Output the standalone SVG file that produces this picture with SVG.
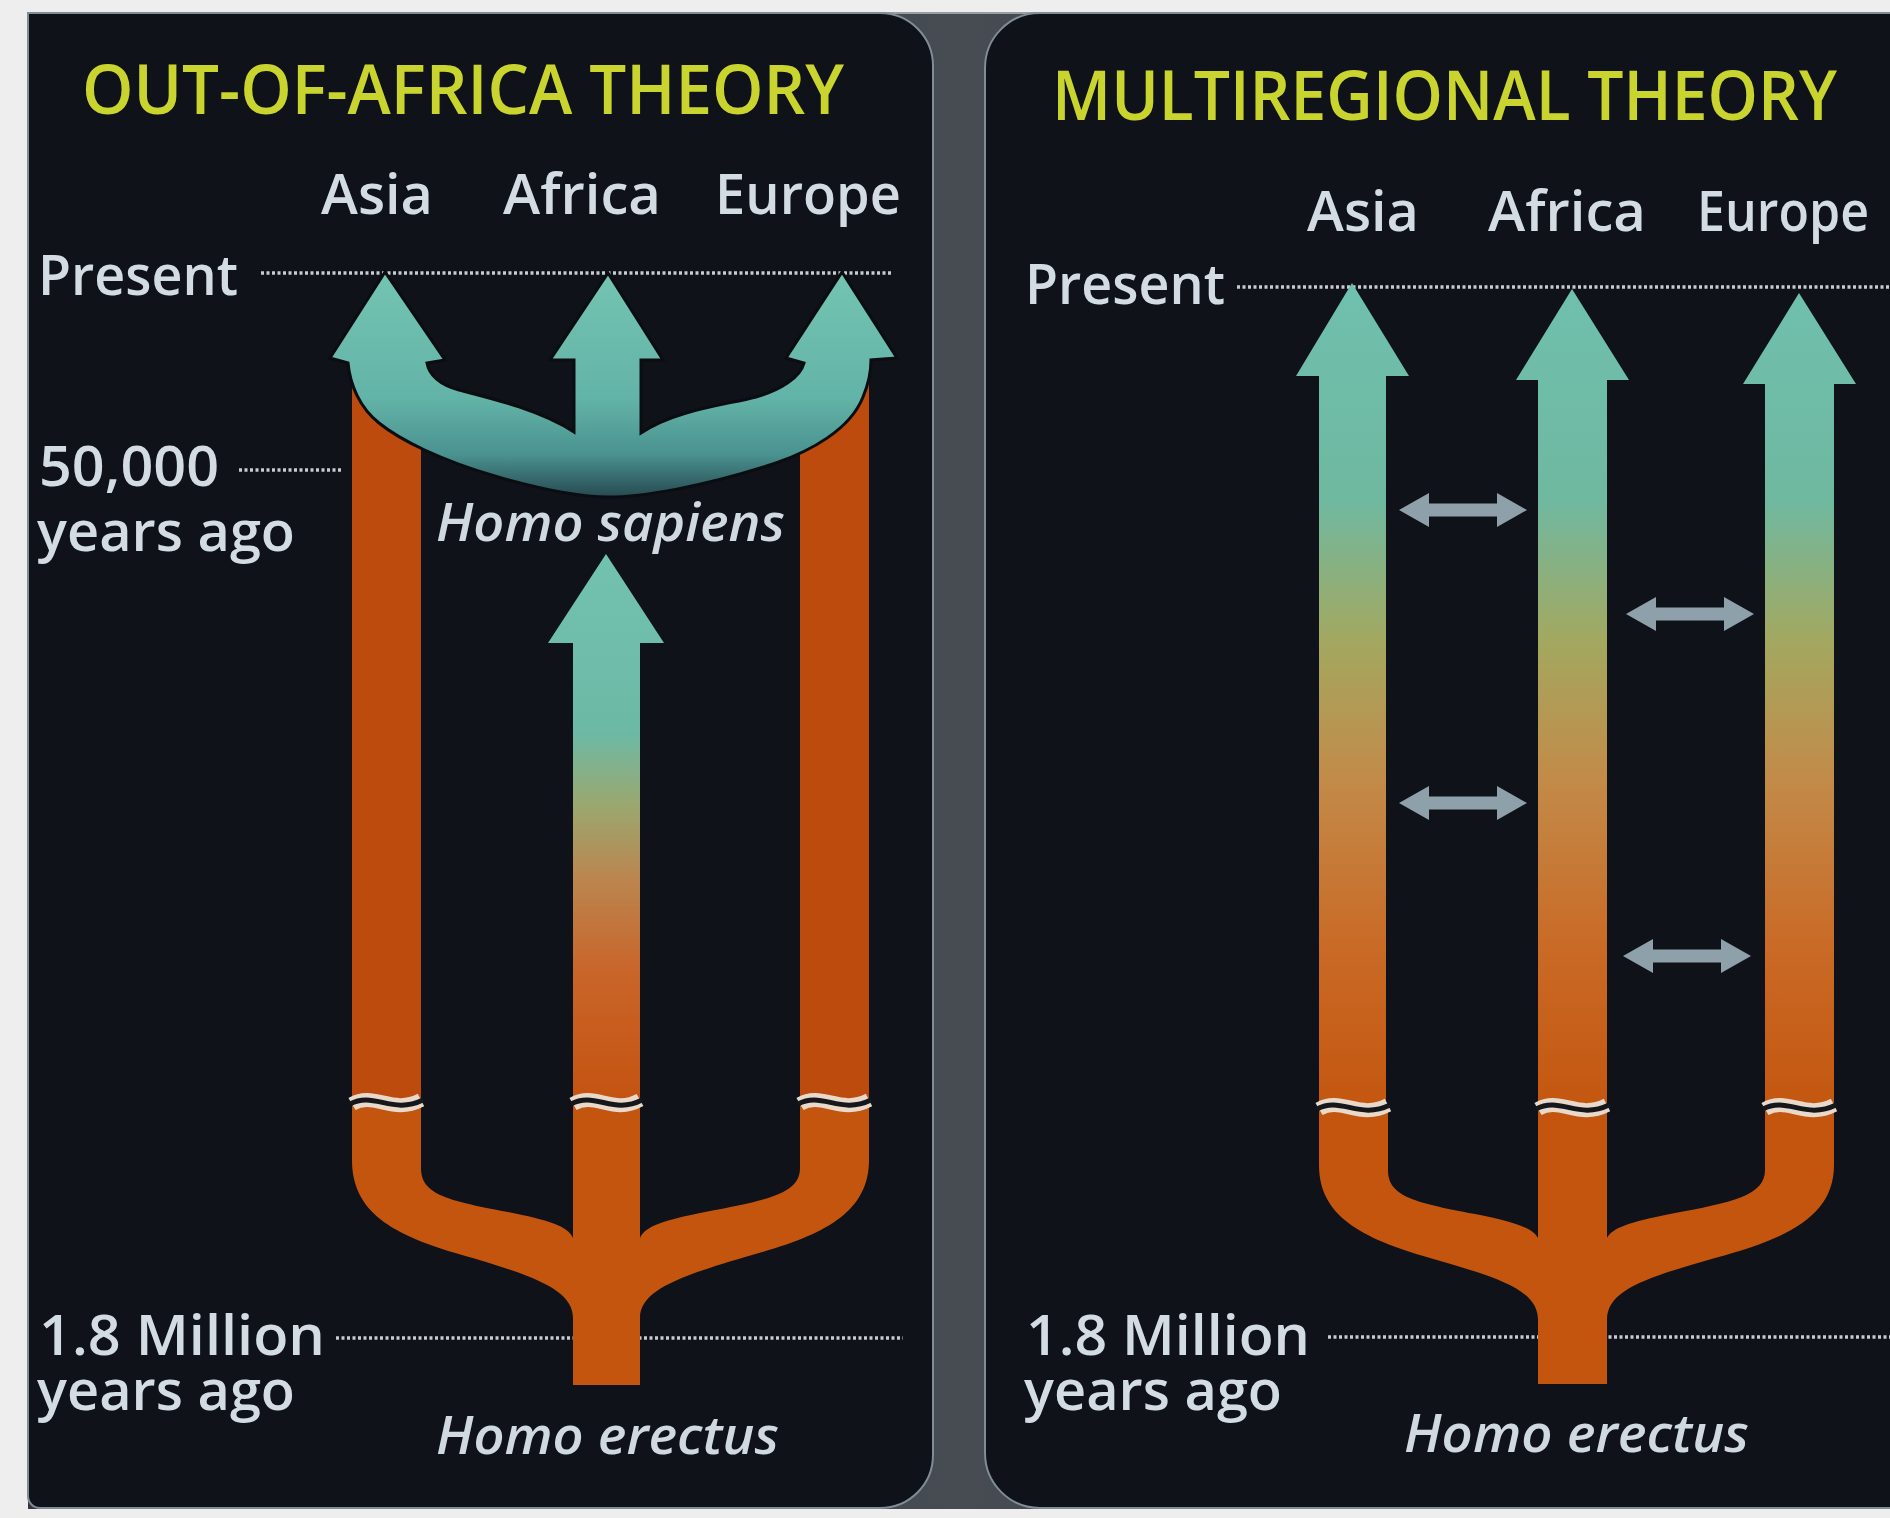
<svg xmlns="http://www.w3.org/2000/svg" xmlns:xlink="http://www.w3.org/1999/xlink" width="1890" height="1518" viewBox="0 0 1890 1518">
  <style>
    .title { font-family: "Open Sans", "Noto Sans", "Liberation Sans", sans-serif; font-weight: 600; font-size: 68px; fill: #c9d52e; }
    .lbl { font-family: "Open Sans", "Noto Sans", "Liberation Sans", sans-serif; font-weight: 600; font-size: 56px; fill: #d3dce2; }
    .sp { font-family: "Open Sans", "Noto Sans", "Liberation Sans", sans-serif; font-weight: 600; font-style: italic; font-size: 52px; fill: #cfd9df; }
    .dots { stroke: #c5ccd2; stroke-width: 3.5; stroke-dasharray: 3 2.5; fill: none; }
    .panel { fill: #0f1219; stroke: #7f8d96; stroke-width: 2; }
    .trunk { fill: #bd4b0e; }
    .base { fill: #c4550f; }
    .wl { fill: none; stroke: #e8d9cb; stroke-width: 14; }
    .wd { fill: none; stroke: #15171b; stroke-width: 5; }
    .dbl { fill: #8ea1aa; }
  </style>
  <defs>
    <linearGradient id="bowlGrad" gradientUnits="userSpaceOnUse" x1="0" y1="272" x2="0" y2="500">
      <stop offset="0" stop-color="#74c4b2"/>
      <stop offset="0.55" stop-color="#63b4a8"/>
      <stop offset="0.8" stop-color="#4a9290"/>
      <stop offset="1" stop-color="#24454c"/>
    </linearGradient>
    <linearGradient id="sapGrad" gradientUnits="userSpaceOnUse" x1="0" y1="554" x2="0" y2="1110">
      <stop offset="0" stop-color="#72c2b0"/>
      <stop offset="0.32" stop-color="#6cb9a5"/>
      <stop offset="0.45" stop-color="#9aa870"/>
      <stop offset="0.58" stop-color="#bb8650"/>
      <stop offset="0.75" stop-color="#c9652a"/>
      <stop offset="1" stop-color="#c4520f"/>
    </linearGradient>
    <linearGradient id="multiGrad" gradientUnits="userSpaceOnUse" x1="0" y1="285" x2="0" y2="1112">
      <stop offset="0" stop-color="#6fc0ae"/>
      <stop offset="0.26" stop-color="#6fb8a0"/>
      <stop offset="0.43" stop-color="#a3a860"/>
      <stop offset="0.6" stop-color="#c38a48"/>
      <stop offset="0.8" stop-color="#c96a26"/>
      <stop offset="1" stop-color="#c4560f"/>
    </linearGradient>
    <linearGradient id="gapGrad" x1="0" y1="0" x2="1" y2="0">
      <stop offset="0" stop-color="#33373e"/>
      <stop offset="0.5" stop-color="#474b52"/>
      <stop offset="1" stop-color="#33373e"/>
    </linearGradient>
    <path id="dblArrow" d="M -64 0 L -34 -17 L -34 -6.5 L 34 -6.5 L 34 -17 L 64 0 L 34 17 L 34 6.5 L -34 6.5 L -34 17 Z"/>
  </defs>

  <!-- frame and background -->
  <rect x="0" y="0" width="1890" height="1518" fill="#eeeeee"/>
  <rect x="28" y="12" width="1862" height="1497" fill="url(#gapGrad)"/>
  <rect x="28" y="12" width="1862" height="2" fill="#9a9ea3"/>

  <!-- LEFT PANEL -->
  <g id="panel-out-of-africa">
    <path class="panel" d="M 28 13 H 880 A 53 53 0 0 1 933 66 V 1455 A 53 53 0 0 1 880 1508 H 40 A 12 12 0 0 1 28 1496 Z"/>

    <g id="oa-timelines">
      <line class="dots" x1="261" y1="273" x2="891" y2="273"/>
      <line class="dots" x1="239" y1="470" x2="342" y2="470"/>
      <line class="dots" x1="336" y1="1338" x2="903" y2="1338"/>
    </g>

    <g id="oa-erectus-lineages">
      <rect class="trunk" x="352" y="378" width="69" height="735"/>
      <rect class="trunk" x="800" y="378" width="69" height="735"/>
      <path class="base" d="M 352 1100 L 352 1160 C 352 1212 392 1235 462 1255 C 535 1276 573 1290 573 1318 L 573 1385 L 640 1385 L 640 1318 C 640 1290 680 1276 752 1255 C 825 1235 869 1212 869 1160 L 869 1100 L 800 1100 L 800 1168 C 800 1193 770 1200 705 1212 C 665 1220 645 1226 640 1238 L 640 1100 L 573 1100 L 573 1238 C 568 1226 548 1220 508 1212 C 443 1200 421 1193 421 1168 L 421 1100 Z"/>
    </g>

    <g id="oa-sapiens-arrow">
      <path fill="url(#sapGrad)" d="M 573 1108 L 573 643 L 548 643 L 606 554 L 664 643 L 640 643 L 640 1108 Z"/>
    </g>

    <g id="oa-sapiens-spread">
      <path fill="url(#bowlGrad)" stroke="#0b0d10" stroke-width="3" d="M 330 358 L 385 272 L 445 360 L 427 363 C 429 375 440 385 459 390 C 490 398 540 410 574 432 L 574 360 L 550 360 L 608 273 L 663 360 L 641 360 L 641 433 C 675 410 725 405 756 397 C 780 390 800 378 804 363 L 786 358 L 842 272 L 897 358 L 871 360 C 871 372 868 385 863 397 C 850 430 810 451 776 463 C 700 488 640 497 608 497 C 580 497 540 489 498 477 C 440 460 400 440 379 423 C 360 408 350 385 348 363 Z"/>
    </g>

    <g id="oa-breaks">
      <path class="wl" d="M 352 1104 C 374 1091 392 1115 421 1100"/>
      <path class="wd" d="M 350 1104 C 374 1091 392 1115 423 1100"/>
      <path class="wl" d="M 573 1104 C 595 1091 613 1115 640 1100"/>
      <path class="wd" d="M 571 1104 C 595 1091 613 1115 642 1100"/>
      <path class="wl" d="M 800 1104 C 822 1091 840 1115 869 1100"/>
      <path class="wd" d="M 798 1104 C 822 1091 840 1115 871 1100"/>
    </g>

    <g id="oa-labels">
      <text class="title" x="82" y="114" textLength="762" lengthAdjust="spacingAndGlyphs">OUT-OF-AFRICA THEORY</text>
      <text class="lbl" x="321" y="214" textLength="112" lengthAdjust="spacingAndGlyphs">Asia</text>
      <text class="lbl" x="503" y="214" textLength="158" lengthAdjust="spacingAndGlyphs">Africa</text>
      <text class="lbl" x="715" y="214" textLength="186" lengthAdjust="spacingAndGlyphs">Europe</text>
      <text class="lbl" x="38" y="295" textLength="200" lengthAdjust="spacingAndGlyphs">Present</text>
      <text class="lbl" x="39" y="486" textLength="180" lengthAdjust="spacingAndGlyphs">50,000</text>
      <text class="lbl" x="37" y="551" textLength="258" lengthAdjust="spacingAndGlyphs">years ago</text>
      <text class="sp" x="436" y="541" textLength="349" lengthAdjust="spacingAndGlyphs">Homo sapiens</text>
      <text class="lbl" x="39" y="1355" textLength="286" lengthAdjust="spacingAndGlyphs">1.8 Million</text>
      <text class="lbl" x="37" y="1410" textLength="258" lengthAdjust="spacingAndGlyphs">years ago</text>
      <text class="sp" x="436" y="1454" textLength="343" lengthAdjust="spacingAndGlyphs">Homo erectus</text>
    </g>
  </g>

  <!-- RIGHT PANEL -->
  <g id="panel-multiregional">
    <path class="panel" d="M 1892 13 H 1040 A 55 55 0 0 0 985 68 V 1453 A 55 55 0 0 0 1040 1508 H 1892 Z"/>

    <g id="mr-timelines">
      <line class="dots" x1="1237" y1="287" x2="1890" y2="287"/>
      <line class="dots" x1="1328" y1="1337" x2="1890" y2="1337"/>
    </g>

    <g id="mr-erectus-base">
      <path class="base" d="M 1319 1105 L 1319 1165 C 1319 1215 1360 1238 1430 1258 C 1500 1278 1538 1290 1538 1320 L 1538 1384 L 1607 1384 L 1607 1320 C 1607 1290 1645 1278 1715 1258 C 1790 1238 1834 1215 1834 1165 L 1834 1105 L 1765 1105 L 1765 1170 C 1765 1195 1735 1202 1670 1214 C 1630 1222 1612 1228 1607 1238 L 1607 1105 L 1538 1105 L 1538 1238 C 1533 1228 1515 1222 1475 1214 C 1410 1202 1388 1195 1388 1170 L 1388 1105 Z"/>
    </g>

    <g id="mr-asia-lineage">
      <path fill="url(#multiGrad)" d="M 1319 1112 L 1319 376 L 1296 376 L 1352 283 L 1409 376 L 1386 376 L 1386 1112 Z"/>
    </g>
    <g id="mr-africa-lineage">
      <path fill="url(#multiGrad)" d="M 1538 1112 L 1538 380 L 1516 380 L 1572 289 L 1629 380 L 1607 380 L 1607 1112 Z"/>
    </g>
    <g id="mr-europe-lineage">
      <path fill="url(#multiGrad)" d="M 1765 1112 L 1765 384 L 1743 384 L 1799 293 L 1856 384 L 1834 384 L 1834 1112 Z"/>
    </g>

    <g id="mr-breaks">
      <path class="wl" d="M 1319 1109 C 1341 1096 1359 1120 1388 1105"/>
      <path class="wd" d="M 1317 1109 C 1341 1096 1359 1120 1390 1105"/>
      <path class="wl" d="M 1538 1109 C 1560 1096 1578 1120 1607 1105"/>
      <path class="wd" d="M 1536 1109 C 1560 1096 1578 1120 1609 1105"/>
      <path class="wl" d="M 1765 1109 C 1787 1096 1805 1120 1834 1105"/>
      <path class="wd" d="M 1763 1109 C 1787 1096 1805 1120 1836 1105"/>
    </g>

    <g id="mr-gene-flow">
      <use xlink:href="#dblArrow" href="#dblArrow" class="dbl" transform="translate(1463 510)"/>
      <use xlink:href="#dblArrow" href="#dblArrow" class="dbl" transform="translate(1690 614)"/>
      <use xlink:href="#dblArrow" href="#dblArrow" class="dbl" transform="translate(1463 803)"/>
      <use xlink:href="#dblArrow" href="#dblArrow" class="dbl" transform="translate(1687 956)"/>
    </g>

    <g id="mr-labels">
      <text class="title" x="1052" y="120" textLength="785" lengthAdjust="spacingAndGlyphs">MULTIREGIONAL THEORY</text>
      <text class="lbl" x="1307" y="231" textLength="112" lengthAdjust="spacingAndGlyphs">Asia</text>
      <text class="lbl" x="1488" y="231" textLength="158" lengthAdjust="spacingAndGlyphs">Africa</text>
      <text class="lbl" x="1697" y="231" textLength="172" lengthAdjust="spacingAndGlyphs">Europe</text>
      <text class="lbl" x="1025" y="304" textLength="200" lengthAdjust="spacingAndGlyphs">Present</text>
      <text class="lbl" x="1026" y="1355" textLength="284" lengthAdjust="spacingAndGlyphs">1.8 Million</text>
      <text class="lbl" x="1024" y="1410" textLength="258" lengthAdjust="spacingAndGlyphs">years ago</text>
      <text class="sp" x="1404" y="1452" textLength="345" lengthAdjust="spacingAndGlyphs">Homo erectus</text>
    </g>
  </g>
</svg>
